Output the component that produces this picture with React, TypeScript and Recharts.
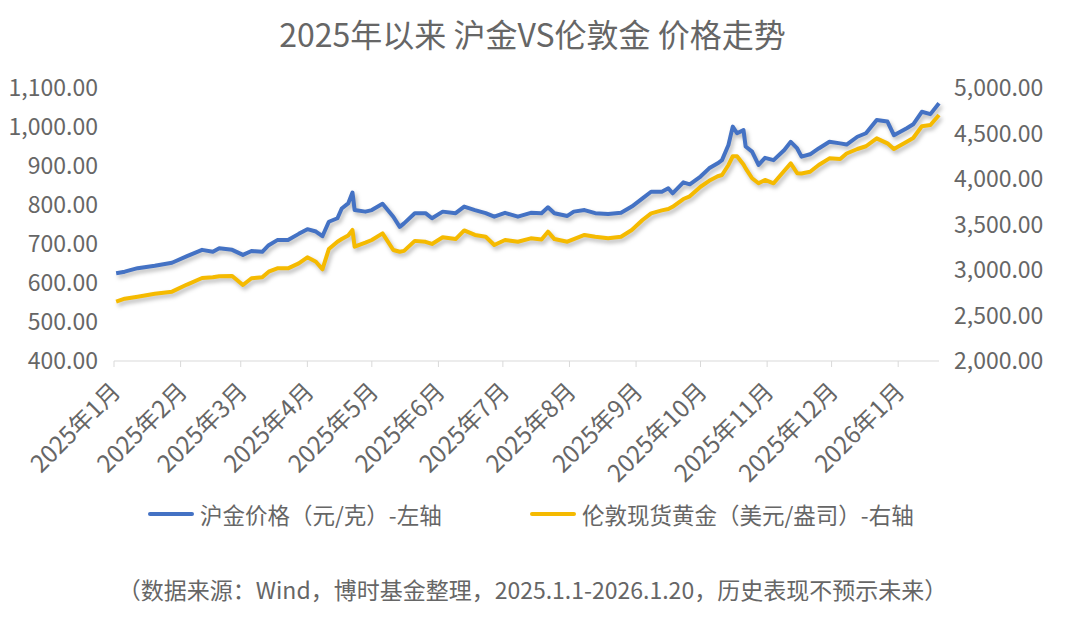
import { LineChart, Line, XAxis, YAxis } from "recharts";

const dates = [
  "2025-01-02", "2025-01-06", "2025-01-12", "2025-01-20", "2025-01-28", "2025-02-04", "2025-02-11", "2025-02-16", "2025-02-19", "2025-02-25",
  "2025-03-02", "2025-03-06", "2025-03-11", "2025-03-14", "2025-03-18", "2025-03-23", "2025-03-28", "2025-04-01", "2025-04-05", "2025-04-08",
  "2025-04-11", "2025-04-15", "2025-04-17", "2025-04-20", "2025-04-22", "2025-04-23", "2025-04-28", "2025-05-01", "2025-05-06", "2025-05-11",
  "2025-05-14", "2025-05-16", "2025-05-21", "2025-05-26", "2025-05-29", "2025-06-03", "2025-06-09", "2025-06-13", "2025-06-18", "2025-06-23",
  "2025-06-27", "2025-07-02", "2025-07-08", "2025-07-14", "2025-07-19", "2025-07-22", "2025-07-25", "2025-07-31", "2025-08-03", "2025-08-08",
  "2025-08-13", "2025-08-19", "2025-08-25", "2025-08-30", "2025-09-04", "2025-09-08", "2025-09-13", "2025-09-16", "2025-09-18", "2025-09-23",
  "2025-09-26", "2025-10-01", "2025-10-05", "2025-10-09", "2025-10-11", "2025-10-14", "2025-10-16", "2025-10-18", "2025-10-21", "2025-10-22",
  "2025-10-25", "2025-10-28", "2025-10-31", "2025-11-04", "2025-11-09", "2025-11-12", "2025-11-15", "2025-11-17", "2025-11-21", "2025-11-25",
  "2025-11-30", "2025-12-05", "2025-12-08", "2025-12-13", "2025-12-17", "2025-12-22", "2025-12-27", "2025-12-30", "2026-01-05", "2026-01-08",
  "2026-01-12", "2026-01-16", "2026-01-20",
];

// 沪金价格（元/克）
const shfeGold = [
  625, 629, 638, 644, 652, 669, 685, 680, 689, 685,
  672, 682, 680, 697, 710, 710, 726, 738, 732, 720,
  757, 766, 791, 804, 832, 787, 783, 787, 803, 770,
  744, 753, 779, 779, 766, 783, 779, 796, 787, 779,
  770, 780, 770, 780, 779, 794, 779, 772, 783, 787,
  779, 777, 780, 796, 817, 834, 834, 843, 830, 858,
  853, 873, 894, 907, 915, 954, 1001, 984, 992, 950,
  937, 903, 921, 915, 941, 962, 945, 924, 930, 945,
  962, 958, 955, 975, 984, 1018, 1014, 979, 997, 1007,
  1039, 1033, 1061,
];

// 伦敦现货黄金（美元/盎司）
const londonGold = [
  2652, 2685, 2707, 2740, 2762, 2840, 2912, 2920, 2932, 2934,
  2835, 2909, 2920, 2981, 3018, 3018, 3073, 3140, 3091, 3008,
  3230, 3311, 3340, 3380, 3440, 3256, 3300, 3330, 3403, 3220,
  3201, 3210, 3320, 3310, 3286, 3360, 3340, 3435, 3385, 3366,
  3275, 3330, 3311, 3348, 3335, 3421, 3340, 3311, 3340, 3385,
  3366, 3350, 3366, 3440, 3549, 3623, 3655, 3670, 3695, 3780,
  3810, 3915, 3980, 4030, 4044, 4154, 4250, 4250, 4160, 4117,
  4008, 3953, 3990, 3953, 4090, 4172, 4063, 4060, 4080, 4154,
  4227, 4220, 4280, 4330, 4360, 4447, 4392, 4330, 4410, 4450,
  4580, 4593, 4703,
];

const monthStarts = [
  "2025-01-01", "2025-02-01", "2025-03-01", "2025-04-01", "2025-05-01", "2025-06-01", "2025-07-01",
  "2025-08-01", "2025-09-01", "2025-10-01", "2025-11-01", "2025-12-01", "2026-01-01",
];
const monthLabels = [
  "2025年1月", "2025年2月", "2025年3月", "2025年4月", "2025年5月", "2025年6月", "2025年7月",
  "2025年8月", "2025年9月", "2025年10月", "2025年11月", "2025年12月", "2026年1月",
];

const leftTicks = [400, 500, 600, 700, 800, 900, 1000, 1100];
const rightTicks = [2000, 2500, 3000, 3500, 4000, 4500, 5000];

const title = "2025年以来 沪金VS伦敦金 价格走势";
const seriesNames = ["沪金价格（元/克）-左轴", "伦敦现货黄金（美元/盎司）-右轴"];
const note = "（数据来源：Wind，博时基金整理，2025.1.1-2026.1.20，历史表现不预示未来）";

const BLUE = "#4472C4";
const GOLD = "#F5BA00";
const TEXT = "#666666";
const FONT = "'Noto Sans CJK SC', 'Noto Sans', sans-serif";

const dayOf = (d: string) => {
  const [y, m, dd] = d.split("-").map(Number);
  return (Date.UTC(y, m - 1, dd) - Date.UTC(2025, 0, 1)) / 86400000;
};

const data = dates.map((d, i) => ({ day: dayOf(d), shfe: shfeGold[i], london: londonGold[i] }));
const xTicks = monthStarts.map(dayOf);
const endDay = dayOf(dates[dates.length - 1]);

const fmt = (v: number) =>
  v.toLocaleString("en-US", { minimumFractionDigits: 2, maximumFractionDigits: 2 });

const tickLabel = (v: number) => monthLabels[xTicks.indexOf(v)] ?? "";

export default function App() {
  return (
    <div
      style={{
        position: "absolute",
        left: 0,
        top: 0,
        width: 1080,
        height: 635,
        background: "#fff",
        fontFamily: FONT,
        overflow: "hidden",
      }}
    >
      <style>{`.recharts-line-curve { filter: drop-shadow(2px 3px 2px rgba(0,0,0,0.28)); }`}</style>
      <div
        style={{
          position: "absolute",
          top: 10,
          left: 0,
          width: 1065,
          textAlign: "center",
          fontSize: 32,
          color: TEXT,
        }}
      >
        {title}
      </div>
      <LineChart width={1080} height={500} data={data} margin={{ top: 88, right: 0, bottom: 0, left: 0 }}>
        <XAxis
          dataKey="day"
          type="number"
          domain={[0, endDay]}
          ticks={xTicks}
          tickFormatter={tickLabel}
          interval={0}
          height={139}
          angle={-45}
          textAnchor="end"
          tick={{ fill: TEXT, fontSize: 24, fontFamily: FONT, dx: -4 }}
          axisLine={{ stroke: "#D9D9D9" }}
          tickLine={{ stroke: "#D9D9D9" }}
          tickSize={6}
          tickMargin={14}
        />
        <YAxis
          yAxisId="left"
          domain={[400, 1100]}
          ticks={leftTicks}
          tickFormatter={fmt}
          width={114}
          axisLine={false}
          tickLine={false}
          tickMargin={10}
          tick={{ fill: TEXT, fontSize: 23, fontFamily: FONT }}
        />
        <YAxis
          yAxisId="right"
          orientation="right"
          domain={[2000, 5000]}
          ticks={rightTicks}
          tickFormatter={fmt}
          width={141}
          axisLine={false}
          tickLine={false}
          tickMargin={9}
          tick={{ fill: TEXT, fontSize: 23, fontFamily: FONT }}
        />
        <Line
          yAxisId="left"
          dataKey="shfe"
          name={seriesNames[0]}
          type="linear"
          stroke={BLUE}
          strokeWidth={4}
          strokeLinejoin="round"
          dot={false}
          activeDot={false}
          isAnimationActive={false}
        />
        <Line
          yAxisId="right"
          dataKey="london"
          name={seriesNames[1]}
          type="linear"
          stroke={GOLD}
          strokeWidth={4}
          strokeLinejoin="round"
          dot={false}
          activeDot={false}
          isAnimationActive={false}
        />
      </LineChart>
      <div style={{ position: "absolute", top: 498, left: 0, width: 1080, fontSize: 22.5, color: TEXT }}>
        {seriesNames.map((n, i) => (
          <div
            key={n}
            style={{
              position: "absolute",
              left: i === 0 ? 148 : 530,
              display: "flex",
              alignItems: "center",
              whiteSpace: "nowrap",
            }}
          >
            <span
              style={{
                display: "inline-block",
                width: 46,
                height: 4,
                borderRadius: 2,
                background: i === 0 ? BLUE : GOLD,
                marginRight: 6,
              }}
            />
            {n}
          </div>
        ))}
      </div>
      <div
        style={{
          position: "absolute",
          top: 572,
          left: 0,
          width: 1065,
          textAlign: "center",
          fontSize: 23,
          color: TEXT,
        }}
      >
        {note}
      </div>
    </div>
  );
}
